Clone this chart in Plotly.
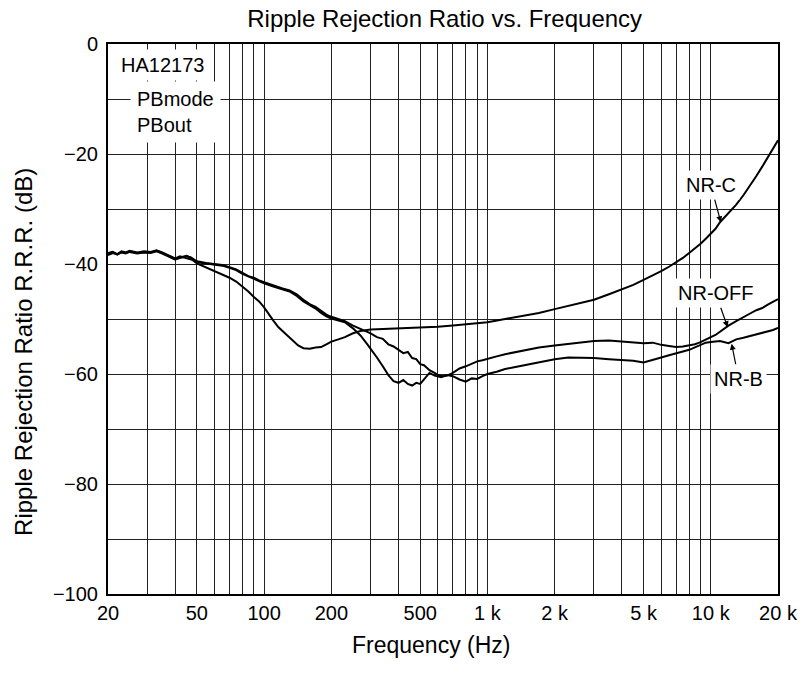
import numpy as np
import plotly.graph_objects as go

# Frequency (Hz) / ripple rejection (dB)
nrc_freq = [20, 21, 22, 23, 24, 25, 27, 29, 31, 33, 35, 37, 40, 42, 45, 48, 50, 55, 60, 65,
            70, 75, 80, 85, 90, 95, 100, 105, 110, 116, 122, 128, 135, 142, 150, 160, 170, 180,
            190, 200, 215, 230, 250, 270, 300, 350, 400, 450, 500, 600, 700, 800, 900, 1000,
            1200, 1400, 1700, 2000, 2500, 3000, 3500, 4000, 4500, 5000, 5500, 6000, 6500, 7000,
            7500, 8000, 8500, 9000, 9500, 10000, 10500, 11000, 12000, 13000, 14000, 15000,
            16000, 17000, 18000, 19000, 20000]
nrc_db = [-38.0, -37.8, -38.2, -37.7, -37.9, -37.6, -37.9, -37.7, -37.8, -37.5, -37.9, -38.4,
          -39.0, -38.6, -38.9, -39.3, -39.9, -40.6, -41.3, -41.9, -42.5, -43.2, -44.1, -45.0,
          -46.0, -46.8, -47.9, -49.2, -50.3, -51.5, -52.3, -53.2, -54.0, -54.8, -55.3, -55.4,
          -55.2, -55.1, -54.6, -54.1, -53.7, -53.3, -52.6, -52.2, -51.9, -51.8, -51.7, -51.7,
          -51.5, -51.4, -51.2, -51.0, -50.8, -50.6, -50.0, -49.5, -48.9, -48.2, -47.3, -46.5,
          -45.5, -44.6, -43.8, -42.9, -42.1, -41.3, -40.5, -39.7, -38.9, -38.0, -37.2, -36.3,
          -35.4, -34.5, -33.6, -32.4, -30.8, -29.2, -27.5, -25.8, -24.0, -22.3, -20.7, -19.0,
          -17.5]

nroff_freq = [20, 21, 22, 23, 24, 25, 27, 29, 31, 33, 35, 37, 40, 42, 45, 47, 50, 55, 60, 65,
              70, 75, 80, 85, 90, 95, 100, 110, 120, 130, 140, 150, 160, 170, 180, 190, 200,
              215, 230, 250, 270, 300, 320, 340, 360, 380, 400, 420, 440, 460, 480, 500, 520,
              550, 580, 600, 630, 660, 700, 750, 800, 850, 900, 950, 1000, 1100, 1200, 1300,
              1400, 1500, 1700, 2000, 2300, 2600, 3000, 3500, 4000, 4500, 5000, 5500, 6000,
              6500, 7000, 7500, 8000, 8500, 9000, 9500, 10000, 10500, 11000, 11500, 12000,
              13000, 14000, 15000, 16000, 17000, 18000, 19000, 20000]
nroff_db = [-38.2, -37.9, -38.3, -37.8, -38.0, -37.7, -38.0, -37.8, -37.9, -37.6, -38.0, -38.5,
            -39.1, -38.9, -38.6, -38.8, -39.5, -39.8, -40.0, -40.2, -40.6, -41.0, -41.6, -42.2,
            -42.5, -43.0, -43.3, -43.9, -44.4, -44.8, -45.5, -46.5, -47.3, -47.8, -48.6, -49.2,
            -49.6, -50.0, -50.4, -51.2, -51.8, -52.6, -53.3, -53.6, -54.6, -55.0, -55.6, -56.2,
            -56.0, -57.1, -57.3, -58.2, -58.4, -59.3, -59.8, -60.2, -60.4, -60.3, -59.8, -59.0,
            -58.6, -58.2, -57.7, -57.5, -57.3, -56.8, -56.4, -56.1, -55.8, -55.6, -55.2, -54.8,
            -54.5, -54.2, -54.0, -53.9, -54.1, -54.3, -54.4, -54.3, -54.7, -54.9, -55.1, -55.0,
            -54.8, -54.6, -54.2, -53.8, -53.3, -52.9, -52.3, -51.8, -51.2, -50.4, -49.6, -49.0,
            -48.4, -48.0, -47.4, -46.9, -46.4]

nrb_freq = [20, 21, 22, 23, 24, 25, 27, 29, 31, 33, 35, 37, 40, 42, 45, 47, 50, 55, 60, 65,
            70, 75, 80, 85, 90, 95, 100, 110, 120, 130, 140, 150, 160, 170, 180, 190, 200,
            215, 230, 250, 270, 290, 300, 320, 340, 360, 380, 400, 420, 440, 460, 480, 500,
            520, 550, 580, 620, 660, 700, 750, 800, 850, 900, 950, 1000, 1100, 1200, 1300,
            1500, 1700, 2000, 2300, 2600, 3000, 3500, 4000, 4500, 5000, 5500, 6000, 6500,
            7000, 7500, 8000, 8500, 9000, 9500, 10000, 11000, 12000, 12500, 13000, 14000,
            15000, 16000, 17000, 18000, 19000, 20000]
nrb_db = [-38.4, -38.0, -38.2, -37.9, -38.1, -37.8, -38.1, -37.9, -38.0, -37.7, -38.1, -38.6,
          -39.2, -38.8, -38.5, -38.9, -39.7, -39.9, -40.1, -40.3, -40.7, -41.1, -41.8, -42.3,
          -42.7, -43.1, -43.5, -44.1, -44.6, -45.0, -45.8, -46.8, -47.5, -48.1, -48.9, -49.5,
          -49.9, -50.3, -50.6, -51.7, -53.0, -54.6, -55.4, -57.0, -58.6, -60.2, -61.3, -61.6,
          -61.1, -61.8, -62.1, -61.6, -61.8, -60.9, -59.8, -60.3, -60.6, -60.2, -60.4, -61.0,
          -61.4, -60.8, -60.9, -60.4, -60.0, -59.6, -59.1, -58.8, -58.3, -57.9, -57.3, -57.0,
          -57.0, -57.1, -57.3, -57.5, -57.6, -57.9, -57.5, -57.0, -56.6, -56.3, -55.9, -55.6,
          -55.1, -54.6, -54.3, -54.2, -54.0, -54.4, -54.1, -53.7, -53.4, -53.1, -52.8, -52.6,
          -52.3, -52.0, -51.6]

x_tickvals = [20, 50, 100, 200, 500, 1000, 2000, 5000, 10000, 20000]
x_ticktext = ["20", "50", "100", "200", "500", "1 k", "2 k", "5 k", "10 k", "20 k"]
x_minor = [30, 40, 60, 70, 80, 90, 300, 400, 600, 700, 800, 900,
           3000, 4000, 6000, 7000, 8000, 9000]
y_tickvals = [0, -20, -40, -60, -80, -100]
y_ticktext = ["0", "\u221220", "\u221240", "\u221260", "\u221280", "\u2212100"]

FONT = "Liberation Sans, Arial, sans-serif"

fig = go.Figure()
for f, d in [(nrc_freq, nrc_db), (nroff_freq, nroff_db), (nrb_freq, nrb_db)]:
    fig.add_trace(go.Scatter(x=f, y=d, mode="lines",
                             line=dict(color="black", width=2), showlegend=False))

axis_common = dict(showline=True, linecolor="black", linewidth=2, mirror=True,
                   ticks="", gridcolor="#222", gridwidth=1, zeroline=False,
                   tickfont=dict(size=20, color="black", family=FONT))

fig.update_xaxes(type="log", range=[np.log10(20), np.log10(20000)],
                 tickvals=x_tickvals, ticktext=x_ticktext, showgrid=True,
                 minor=dict(tickvals=x_minor, showgrid=True, gridcolor="#222",
                            gridwidth=1, ticks=""),
                 **axis_common)
fig.update_yaxes(range=[-100, 0], tickvals=y_tickvals, ticktext=y_ticktext, showgrid=True,
                 ticklabelstandoff=4,
                 minor=dict(dtick=10, showgrid=True, gridcolor="#222", gridwidth=1, ticks=""),
                 **axis_common)

# boxed notes in the top-left corner (white boxes break the grid like the original)
fig.add_annotation(text="HA12173", xref="paper", yref="paper", x=0.0118, y=0.962,
                   xanchor="left", yanchor="middle", showarrow=False, bgcolor="white",
                   borderpad=4, font=dict(size=20, color="black", family=FONT))
fig.add_annotation(text="PBmode<br>PBout", xref="paper", yref="paper", x=0.0325, y=0.8755,
                   xanchor="left", yanchor="middle", align="left", showarrow=False,
                   bgcolor="white", borderpad=6, font=dict(size=20, color="black", family=FONT))

labels = [("NR-C", 11090, -32.4, -10, -37),
          ("NR-OFF", 11900, -51.5, -12, -34),
          ("NR-B", 12400, -54.5, 7, 35)]
for txt, f, d, ax, ay in labels:
    fig.add_annotation(x=np.log10(f), y=d, text=txt, showarrow=True, ax=ax, ay=ay,
                       arrowhead=2, arrowsize=1, arrowwidth=1.2, arrowcolor="black",
                       bgcolor="white", borderpad=3,
                       font=dict(size=20, color="black", family=FONT))

fig.add_annotation(text="Frequency (Hz)", xref="paper", yref="paper", x=0.4815, y=-0.0927,
                   showarrow=False, yanchor="middle",
                   font=dict(size=23, color="black", family=FONT))
fig.add_annotation(text="Ripple Rejection Ratio R.R.R. (dB)", xref="paper", yref="paper",
                   x=-0.127, y=0.44, textangle=-90, showarrow=False,
                   xanchor="center", yanchor="middle",
                   font=dict(size=24, color="black", family=FONT))

fig.update_layout(
    width=810, height=673,
    margin=dict(l=108, r=25, t=44, b=79),
    paper_bgcolor="white", plot_bgcolor="white",
    title=dict(text="Ripple Rejection Ratio vs. Frequency", x=0.549, y=0.973,
               xanchor="center", yanchor="middle",
               font=dict(size=24, color="black", family=FONT)),
)

# drop the browser's default 8px body margin so the figure sits at the page origin
fig.write_html("out.html", config={"displayModeBar": False},
               post_script="document.body.style.margin='0';")
